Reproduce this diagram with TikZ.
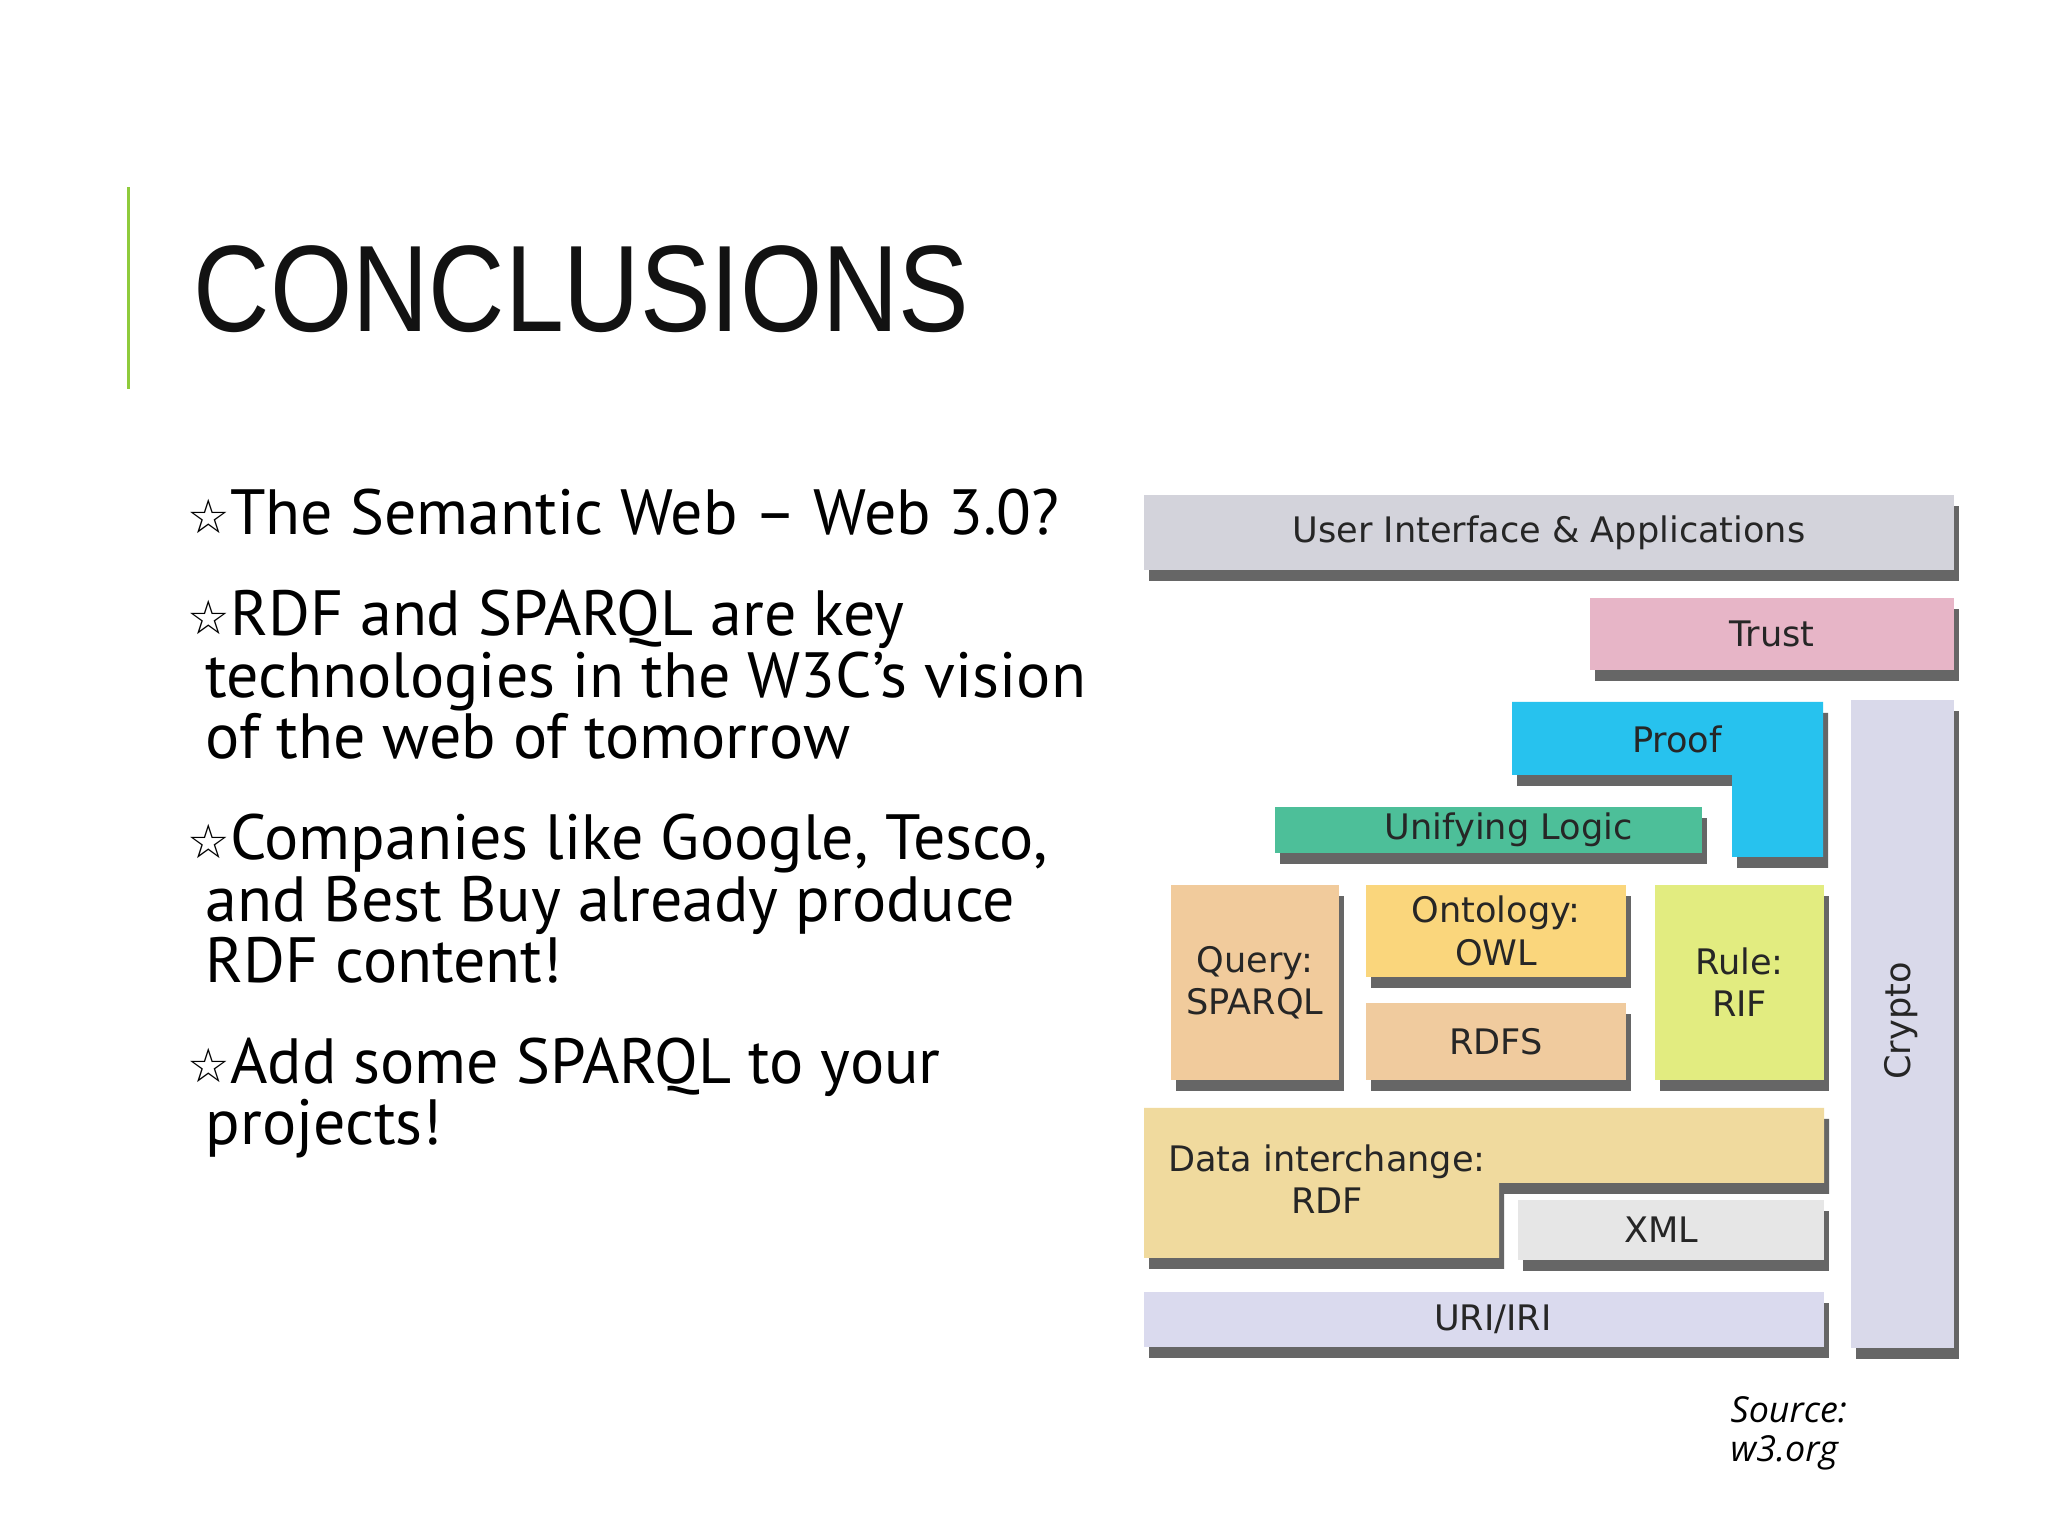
\documentclass[tikz,border=0pt]{standalone}
\usepackage{fontspec}
\setmainfont{PT Sans}
\newfontfamily\titlefont[FakeStretch=0.86]{Liberation Sans}
\newfontfamily\boxfont{DejaVu Sans}
\newfontfamily\symfont{DejaVu Sans}
\newfontfamily\notefont{Open Sans}
\usetikzlibrary{shadows}

\definecolor{accentgreen}{HTML}{8FCB3C}
\definecolor{uigray}{HTML}{D3D3DB}
\definecolor{trustpink}{HTML}{E7B5C7}
\definecolor{proofblue}{HTML}{27C2EE}
\definecolor{cryptolav}{HTML}{D9D9EA}
\definecolor{logicgreen}{HTML}{4DBF99}
\definecolor{querytan}{HTML}{F1CB9C}
\definecolor{owlyellow}{HTML}{FAD67C}
\definecolor{rdfstan}{HTML}{F0CB9E}
\definecolor{rifgreen}{HTML}{E2EC80}
\definecolor{rdfyellow}{HTML}{F0DA9E}
\definecolor{xmlgray}{HTML}{E6E6E6}
\definecolor{urilav}{HTML}{DADAEE}

\newcommand{\itemstar}{{\symfont\fontsize{13.5}{13.5}\selectfont\raisebox{0.4pt}{☆}}}

\begin{document}
\begin{tikzpicture}[
    layer/.style={rectangle, inner sep=0pt, text=black!85, align=center,
        font=\boxfont\fontsize{10}{12}\selectfont,
        drop shadow={shadow xshift=0.05cm, shadow yshift=-0.11cm, fill=black!75, opacity=0.8}},
    tag/.style={inner sep=0pt, text=black!85, align=center, font=\boxfont\fontsize{10}{12}\selectfont},
    point/.style={anchor=base west, inner sep=0pt, align=left, font=\fontsize{18.2}{17.5}\selectfont}
]
    \useasboundingbox (0,0) rectangle (20.48,15.36);
    \fill[white] (0,0) rectangle (20.48,15.36);

    % heading
    \fill[accentgreen] (1.265,11.47) rectangle (1.305,13.49);
    \node[anchor=base west, inner sep=0pt, text=black!93, font=\titlefont\fontsize{35}{35}\selectfont] (title) at (1.93,12.04) {CONCLUSIONS};

    % bullet points (anchored on their last line)
    \node[point] (b1) at (1.87,10.01) {\itemstar The Semantic Web – Web 3.0?};
    \node[point] (b2) at (1.87,7.77) {\itemstar RDF and SPARQL are key\\\hspace*{0.18cm}technologies in the W3C’s vision\\\hspace*{0.18cm}of the web of tomorrow};
    \node[point] (b3) at (1.87,5.53) {\itemstar Companies like Google, Tesco,\\\hspace*{0.18cm}and Best Buy already produce\\\hspace*{0.18cm}RDF content!};
    \node[point] (b4) at (1.87,3.91) {\itemstar Add some SPARQL to your\\\hspace*{0.18cm}projects!};

    \node[anchor=base west, inner sep=0pt, align=left, font=\notefont\itshape\fontsize{10.2}{11.3}\selectfont] (src) at (17.30,0.74) {Source:\\w3.org};

    % layer cake
    \node[layer, fill=uigray, minimum width=8.10cm, minimum height=0.75cm] (ui) at (15.49,10.035) {User Interface \& Applications};
    \node[layer, fill=trustpink, minimum width=3.64cm, minimum height=0.72cm] (trust) at (17.72,9.02) {Trust};

    \fill[proofblue, drop shadow={shadow xshift=0.05cm, shadow yshift=-0.11cm, fill=black!75, opacity=0.8}]
        (15.12,8.34) -- (18.23,8.34) -- (18.23,6.79) -- (17.32,6.79) -- (17.32,7.61) -- (15.12,7.61) -- cycle;
    \node[tag] (proof) at (16.77,7.97) {Proof};

    \fill[cryptolav, drop shadow={shadow xshift=0.05cm, shadow yshift=-0.11cm, fill=black!75, opacity=0.8}]
        (18.51,8.36) rectangle (19.54,1.88);
    \node[tag, rotate=90] (crypto) at (19.01,5.15) {Crypto};

    \node[layer, fill=logicgreen, minimum width=4.27cm, minimum height=0.46cm] (logic) at (14.885,7.06) {\hspace*{0.4cm}Unifying Logic};

    \node[layer, fill=querytan, minimum width=1.68cm, minimum height=1.95cm] (query) at (12.55,5.535) {Query:\\SPARQL};
    \node[layer, fill=owlyellow, minimum width=2.60cm, minimum height=0.92cm] (owl) at (14.96,6.05) {Ontology:\\OWL};
    \node[layer, fill=rdfstan, minimum width=2.60cm, minimum height=0.77cm] (rdfs) at (14.96,4.945) {RDFS};
    \node[layer, fill=rifgreen, minimum width=1.69cm, minimum height=1.95cm] (rif) at (17.395,5.535) {Rule:\\RIF};

    \fill[rdfyellow, drop shadow={shadow xshift=0.05cm, shadow yshift=-0.11cm, fill=black!75, opacity=0.8}]
        (11.44,4.28) -- (18.24,4.28) -- (18.24,3.53) -- (14.99,3.53) -- (14.99,2.78) -- (11.44,2.78) -- cycle;
    \node[tag] (rdf) at (13.27,3.57) {Data interchange:\\RDF};

    \node[layer, fill=xmlgray, minimum width=3.06cm, minimum height=0.60cm] (xml) at (16.71,3.06) {XML\hspace*{0.2cm}};
    \node[layer, fill=urilav, minimum width=6.80cm, minimum height=0.55cm] (uri) at (14.84,2.165) {\hspace*{0.18cm}URI/IRI};
\end{tikzpicture}
\end{document}
